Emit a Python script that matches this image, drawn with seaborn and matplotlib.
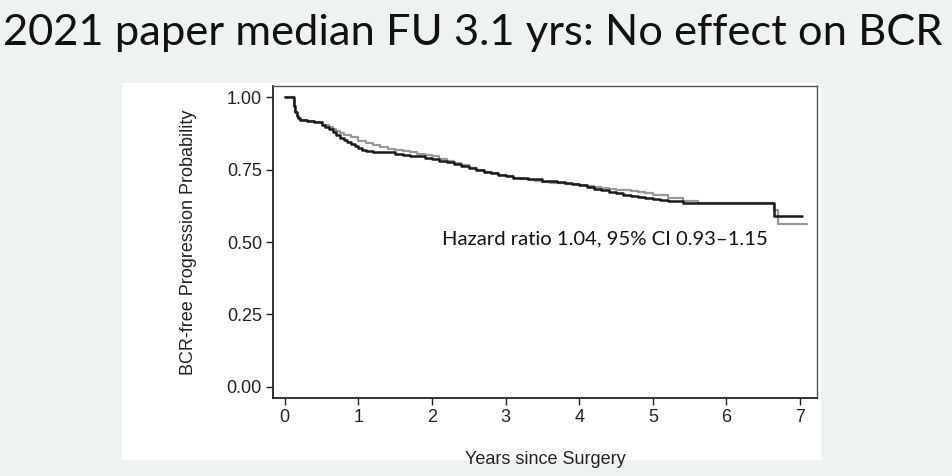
import numpy as np
import pandas as pd
import matplotlib
matplotlib.use("Agg")
import matplotlib.pyplot as plt
from matplotlib.patches import Rectangle
import seaborn as sns

# Kaplan-Meier steps (years, BCR-free probability)
t_black = [0, 0.12, 0.14, 0.16, 0.18, 0.2, 0.3, 0.4, 0.5, 0.55, 0.6, 0.65, 0.7, 0.75,
           0.8, 0.85, 0.9, 0.95, 1.0, 1.05, 1.1, 1.2, 1.3, 1.5, 1.6, 1.7, 1.8, 1.9, 2.0,
           2.1, 2.2, 2.3, 2.4, 2.5, 2.6, 2.7, 2.8, 2.9, 3.0, 3.1, 3.2, 3.3, 3.5, 3.6,
           3.7, 3.8, 3.9, 4.0, 4.1, 4.2, 4.3, 4.4, 4.5, 4.6, 4.7, 4.8, 4.9, 5.0, 5.1,
           5.2, 5.3, 5.41, 6.64, 7.02]
s_black = [1.0, 0.97, 0.95, 0.935, 0.927, 0.922, 0.918, 0.913, 0.905, 0.898, 0.89,
           0.88, 0.87, 0.86, 0.852, 0.845, 0.838, 0.83, 0.824, 0.818, 0.814, 0.812,
           0.81, 0.805, 0.80, 0.798, 0.795, 0.791, 0.787, 0.78, 0.776, 0.77, 0.762,
           0.755, 0.748, 0.742, 0.737, 0.732, 0.727, 0.722, 0.719, 0.716, 0.712, 0.709,
           0.706, 0.703, 0.70, 0.695, 0.69, 0.684, 0.678, 0.673, 0.668, 0.663, 0.658,
           0.655, 0.652, 0.65, 0.646, 0.643, 0.64, 0.634, 0.591, 0.591]

t_gray = [0, 0.12, 0.14, 0.16, 0.18, 0.2, 0.3, 0.4, 0.5, 0.6, 0.65, 0.7, 0.75, 0.8,
          0.9, 1.0, 1.1, 1.2, 1.3, 1.4, 1.5, 1.6, 1.7, 1.8, 1.9, 2.0, 2.1, 2.2, 2.3,
          2.4, 2.5, 2.6, 2.7, 2.8, 2.9, 3.0, 3.1, 3.2, 3.3, 3.4, 3.5, 3.6, 3.7, 3.8,
          3.9, 4.0, 4.1, 4.2, 4.3, 4.4, 4.5, 4.6, 4.7, 4.8, 4.9, 5.0, 5.2, 5.41, 5.62,
          6.64, 6.70, 7.09]
s_gray = [1.0, 0.97, 0.95, 0.935, 0.927, 0.922, 0.918, 0.913, 0.905, 0.895, 0.888,
          0.882, 0.875, 0.87, 0.862, 0.85, 0.84, 0.833, 0.828, 0.822, 0.818, 0.815,
          0.81, 0.805, 0.8, 0.795, 0.785, 0.778, 0.771, 0.764, 0.756, 0.749, 0.743,
          0.737, 0.732, 0.727, 0.722, 0.717, 0.713, 0.71, 0.708, 0.705, 0.703, 0.701,
          0.70, 0.697, 0.694, 0.69, 0.687, 0.684, 0.681, 0.678, 0.676, 0.672, 0.668,
          0.662, 0.652, 0.641, 0.634, 0.612, 0.561, 0.561]

y_ticks = [0.0, 0.25, 0.5, 0.75, 1.0]
y_ticklabels = ["0.00", "0.25", "0.50", "0.75", "1.00"]
x_ticks = [0, 1, 2, 3, 4, 5, 6, 7]

title = "2021 paper median FU 3.1 yrs: No effect on BCR"
hr_text = "Hazard ratio 1.04, 95% CI 0.93\u20131.15"

df = pd.concat([
    pd.DataFrame({"years": t_black, "surv": s_black, "arm": "black"}),
    pd.DataFrame({"years": t_gray, "surv": s_gray, "arm": "gray"}),
])

sns.set_theme(style="ticks")
plt.rcParams["font.family"] = ["Liberation Sans", "DejaVu Sans"]

fig = plt.figure(figsize=(9.53, 4.76), dpi=100)
fig.patch.set_facecolor("#eef3f0")
# white picture panel on the slide
fig.patches.append(Rectangle((122 / 953, 1 - 460 / 476), 699 / 953, 377 / 476,
                             transform=fig.transFigure, facecolor="white",
                             edgecolor="none", zorder=-10))

ax = fig.add_axes([273 / 953, 1 - 398 / 476, 544 / 953, 312 / 476])
ax.set_facecolor("white")

sns.lineplot(data=df, x="years", y="surv", hue="arm", estimator=None,
             palette={"black": "#1a1a1a", "gray": "#9a9a9a"}, legend=False,
             drawstyle="steps-post", ax=ax, hue_order=["gray", "black"])
for line in ax.lines:
    if line.get_color() == "#1a1a1a":
        line.set_linewidth(1.8)
        line.set_zorder(3)
    else:
        line.set_linewidth(1.6)

ax.set_xlim(-0.16, 7.23)
ax.set_ylim(-0.038, 1.038)
ax.set_xticks(x_ticks)
ax.set_yticks(y_ticks)
ax.set_yticklabels(y_ticklabels)
ax.tick_params(axis="both", labelsize=13, length=5, width=1, colors="#222222",
               direction="out", pad=3)
for side in ["left", "bottom"]:
    ax.spines[side].set_linewidth(1.3)
    ax.spines[side].set_color("#222222")
for side in ["top", "right"]:
    ax.spines[side].set_visible(True)
    ax.spines[side].set_linewidth(1.0)
    ax.spines[side].set_color("#555555")

ax.set_xlabel("Years since Surgery", fontsize=13, color="#222222", labelpad=18)
ax.set_ylabel("BCR-free Progression Probability", fontsize=13, color="#222222", labelpad=21)

ax.text(2.14, 0.51, hr_text, fontsize=14.6, family=["Lato", "DejaVu Sans"],
        color="#111111", va="center", ha="left")

fig.text(0.496, 1 - 33 / 476, title, fontsize=31.3, family=["Lato", "DejaVu Sans"],
         color="#111111", ha="center", va="center")

fig.savefig("out.png", dpi=100, facecolor=fig.get_facecolor())
